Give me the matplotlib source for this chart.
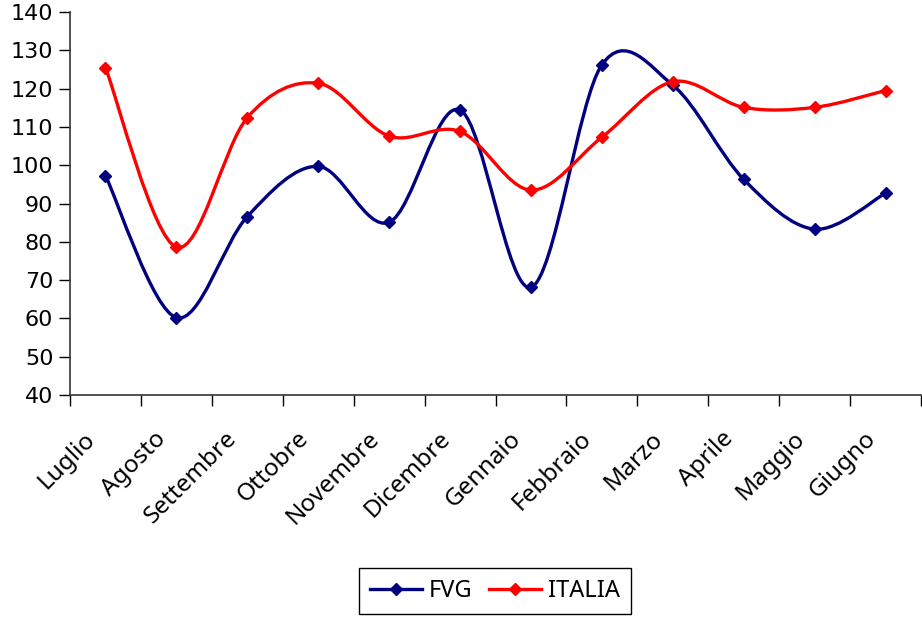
import matplotlib
matplotlib.use("Agg")
import matplotlib.pyplot as plt
from matplotlib.path import Path
from matplotlib.patches import PathPatch
from matplotlib.lines import Line2D
from matplotlib.transforms import ScaledTranslation

months = ['Luglio', 'Agosto', 'Settembre', 'Ottobre', 'Novembre', 'Dicembre',
          'Gennaio', 'Febbraio', 'Marzo', 'Aprile', 'Maggio', 'Giugno']
fvg = [97.3, 60.2, 86.6, 99.7, 85.1, 114.4, 68.1, 126.2, 120.9, 96.3, 83.3, 92.7]
italia = [125.5, 78.6, 112.4, 121.4, 107.6, 108.8, 93.5, 107.3, 121.8, 115.1, 115.1, 119.5]

FVG_COLOR = '#000080'
ITA_COLOR = '#ff0000'
LABEL_FONT = ['Noto Sans', 'DejaVu Sans']


def smooth_path(xs, ys):
    # Catmull-Rom style cubic bezier, like Excel's smoothed lines
    pts = list(zip(xs, ys))
    n = len(pts)
    verts = [pts[0]]
    codes = [Path.MOVETO]
    for i in range(n - 1):
        p0 = pts[i - 1] if i > 0 else pts[i]
        p1 = pts[i]
        p2 = pts[i + 1]
        p3 = pts[i + 2] if i + 2 < n else pts[i + 1]
        c1 = (p1[0] + (p2[0] - p0[0]) / 6, p1[1] + (p2[1] - p0[1]) / 6)
        c2 = (p2[0] - (p3[0] - p1[0]) / 6, p2[1] - (p3[1] - p1[1]) / 6)
        verts += [c1, c2, p2]
        codes += [Path.CURVE4] * 3
    return Path(verts, codes)


fig = plt.figure(figsize=(9.22, 6.18), dpi=100)
ax = fig.add_axes([70 / 922, 1 - 395 / 618, 851 / 922, 383 / 618])

x = list(range(len(months)))
for vals, col in [(fvg, FVG_COLOR), (italia, ITA_COLOR)]:
    ax.add_patch(PathPatch(smooth_path(x, vals), fill=False, edgecolor=col,
                           lw=2.4, capstyle='round', joinstyle='round', zorder=3))
    ax.plot(x, vals, linestyle='none', marker='D', markersize=6.5,
            color=col, zorder=4)

ax.set_xlim(-0.5, len(months) - 0.5)
ax.set_ylim(40, 140)
ax.set_yticks(range(40, 141, 10))
ax.set_xticks([i - 0.5 for i in range(len(months) + 1)])
ax.set_xticklabels([])
ax.set_xticks(x, minor=True)
ax.set_xticklabels(months, minor=True, rotation=45, ha='right', va='top',
                   rotation_mode='anchor', fontsize=17.5, family=LABEL_FONT)
ax.tick_params(axis='x', which='minor', length=0, pad=0)
ax.tick_params(axis='x', which='major', length=8, direction='out', width=1)
ax.tick_params(axis='y', length=8, direction='out', width=1, labelsize=16, pad=4)

# shift rotated month labels left/down like the original
offset = ScaledTranslation(-0.22, -0.32, fig.dpi_scale_trans)
for lbl in ax.get_xticklabels(minor=True):
    lbl.set_transform(lbl.get_transform() + offset)

for side in ['top', 'right']:
    ax.spines[side].set_visible(False)
for side in ['left', 'bottom']:
    ax.spines[side].set_color('#333333')
    ax.spines[side].set_linewidth(1.2)

handles = [Line2D([], [], color=FVG_COLOR, lw=2.4, marker='D', markersize=6.5),
           Line2D([], [], color=ITA_COLOR, lw=2.4, marker='D', markersize=6.5)]
leg = fig.legend(handles, ['FVG', 'ITALIA'], loc='center',
                 bbox_to_anchor=(495 / 922, 1 - 591 / 618), ncol=2,
                 frameon=True, fancybox=False, framealpha=1, edgecolor='black',
                 prop={'family': LABEL_FONT, 'size': 17}, handlelength=2.2,
                 handletextpad=0.3, columnspacing=0.7, borderpad=0.45)
leg.get_frame().set_linewidth(1.0)

fig.savefig('out.png', dpi=100)
